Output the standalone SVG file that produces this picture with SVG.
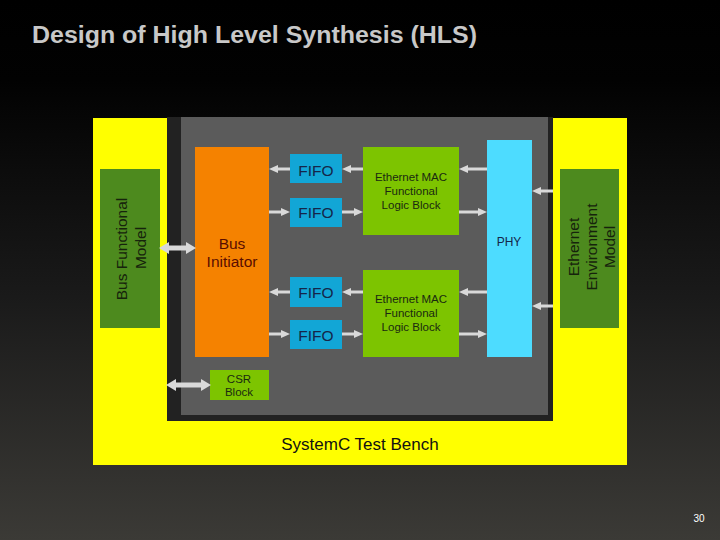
<svg xmlns="http://www.w3.org/2000/svg" width="720" height="540" viewBox="0 0 720 540">
<defs>
<linearGradient id="bg" x1="0" y1="0" x2="0" y2="1">
<stop offset="0" stop-color="#000"/>
<stop offset="0.15" stop-color="#020202"/>
<stop offset="0.55" stop-color="#1a1a1a"/>
<stop offset="1" stop-color="#3b3a36"/>
</linearGradient>
<marker id="ah" markerUnits="userSpaceOnUse" markerWidth="10" markerHeight="9" refX="3" refY="4" orient="auto-start-reverse">
<path d="M0,0 L9,4 L0,8 z" fill="#d9d9d9"/>
</marker>
<marker id="bh" markerUnits="userSpaceOnUse" markerWidth="12" markerHeight="13" refX="3" refY="6" orient="auto-start-reverse">
<path d="M0,0 L10,6 L0,12 z" fill="#d9d9d9"/>
</marker>
<style>
.t{font-family:"Liberation Sans",Arial,sans-serif;text-anchor:middle}
.a{stroke:#d9d9d9;stroke-width:3;fill:none;marker-end:url(#ah)}
.d{stroke:#d9d9d9;stroke-width:5;fill:none;marker-start:url(#bh);marker-end:url(#bh)}
.fifo rect{fill:#12a6d6}
.fifo text{font-size:15.5px;fill:#15264a}
.mac rect{fill:#7dc400}
.mac text{font-size:11.5px;fill:#1a2a10}
.model rect{fill:#4d8a1e}
.model text{font-size:15.5px;fill:#16230c}
</style>
</defs>
<rect width="720" height="540" fill="url(#bg)"/>
<text x="32" y="43" font-family="Liberation Sans,Arial,sans-serif" font-weight="bold" font-size="23" fill="#c8c8c8" textLength="445" lengthAdjust="spacingAndGlyphs">Design of High Level Synthesis (HLS)</text>

<g id="testbench">
<rect x="93" y="118" width="534" height="347" fill="#ffff00"/>
<text class="t" x="360" y="450" font-size="17" fill="#111">SystemC Test Bench</text>
</g>
<g id="hls-block">
<rect x="167" y="117" width="386" height="304" fill="#222"/>
<rect x="181" y="117" width="367" height="298" fill="#5b5b5b"/>
</g>

<g id="bus-functional-model" class="model">
<rect x="100" y="169" width="60" height="159"/>
<text class="t" transform="translate(127,249) rotate(-90)">Bus Functional</text>
<text class="t" transform="translate(146,248) rotate(-90)">Model</text>
</g>
<g id="ethernet-environment-model" class="model">
<rect x="560" y="169" width="59" height="159"/>
<text class="t" transform="translate(579,247) rotate(-90)">Ethernet</text>
<text class="t" transform="translate(597,247) rotate(-90)">Environment</text>
<text class="t" transform="translate(615,247) rotate(-90)">Model</text>
</g>

<g id="bus-initiator">
<rect x="195" y="147" width="74" height="210" fill="#f58200"/>
<text class="t" x="232" y="249" font-size="15.5" fill="#5a0d00">Bus</text>
<text class="t" x="232" y="267" font-size="15.5" fill="#5a0d00">Initiator</text>
</g>

<g id="fifo1" class="fifo"><rect x="290" y="154" width="52" height="29"/><text class="t" x="316" y="176">FIFO</text></g>
<g id="fifo2" class="fifo"><rect x="290" y="198" width="52" height="29"/><text class="t" x="316" y="218">FIFO</text></g>
<g id="fifo3" class="fifo"><rect x="290" y="277" width="52" height="30"/><text class="t" x="316" y="298">FIFO</text></g>
<g id="fifo4" class="fifo"><rect x="290" y="320" width="52" height="29"/><text class="t" x="316" y="341">FIFO</text></g>

<g id="mac1" class="mac">
<rect x="363" y="147" width="96" height="88"/>
<text class="t" x="411" y="181">Ethernet MAC</text>
<text class="t" x="411" y="195">Functional</text>
<text class="t" x="411" y="209">Logic Block</text>
</g>
<g id="mac2" class="mac">
<rect x="363" y="270" width="96" height="87"/>
<text class="t" x="411" y="303">Ethernet MAC</text>
<text class="t" x="411" y="317">Functional</text>
<text class="t" x="411" y="331">Logic Block</text>
</g>

<g id="phy">
<rect x="487" y="140" width="45" height="217" fill="#4ddcff"/>
<text class="t" x="509" y="246" font-size="12" fill="#15264a">PHY</text>
</g>

<g id="csr-block" class="mac">
<rect x="210" y="370" width="59" height="30"/>
<text class="t" x="239" y="383">CSR</text>
<text class="t" x="239" y="396">Block</text>
</g>

<g id="connectors">
<line class="d" x1="166" y1="248" x2="189" y2="248"/>
<line class="d" x1="173" y1="385" x2="204" y2="385"/>
<line class="a" x1="290" y1="169" x2="275" y2="169"/>
<line class="a" x1="363" y1="169" x2="348" y2="169"/>
<line class="a" x1="269" y1="212" x2="284" y2="212"/>
<line class="a" x1="342" y1="212" x2="357" y2="212"/>
<line class="a" x1="290" y1="292" x2="275" y2="292"/>
<line class="a" x1="363" y1="292" x2="348" y2="292"/>
<line class="a" x1="269" y1="334" x2="284" y2="334"/>
<line class="a" x1="342" y1="334" x2="357" y2="334"/>
<line class="a" x1="487" y1="169" x2="465" y2="169"/>
<line class="a" x1="459" y1="212" x2="481" y2="212"/>
<line class="a" x1="487" y1="292" x2="465" y2="292"/>
<line class="a" x1="459" y1="334" x2="481" y2="334"/>
<line class="a" x1="553" y1="191" x2="538" y2="191"/>
<line class="a" x1="553" y1="306" x2="538" y2="306"/>
</g>

<text x="699" y="522" font-family="Liberation Sans,Arial,sans-serif" font-size="10" fill="#fff" text-anchor="middle">30</text>
</svg>
